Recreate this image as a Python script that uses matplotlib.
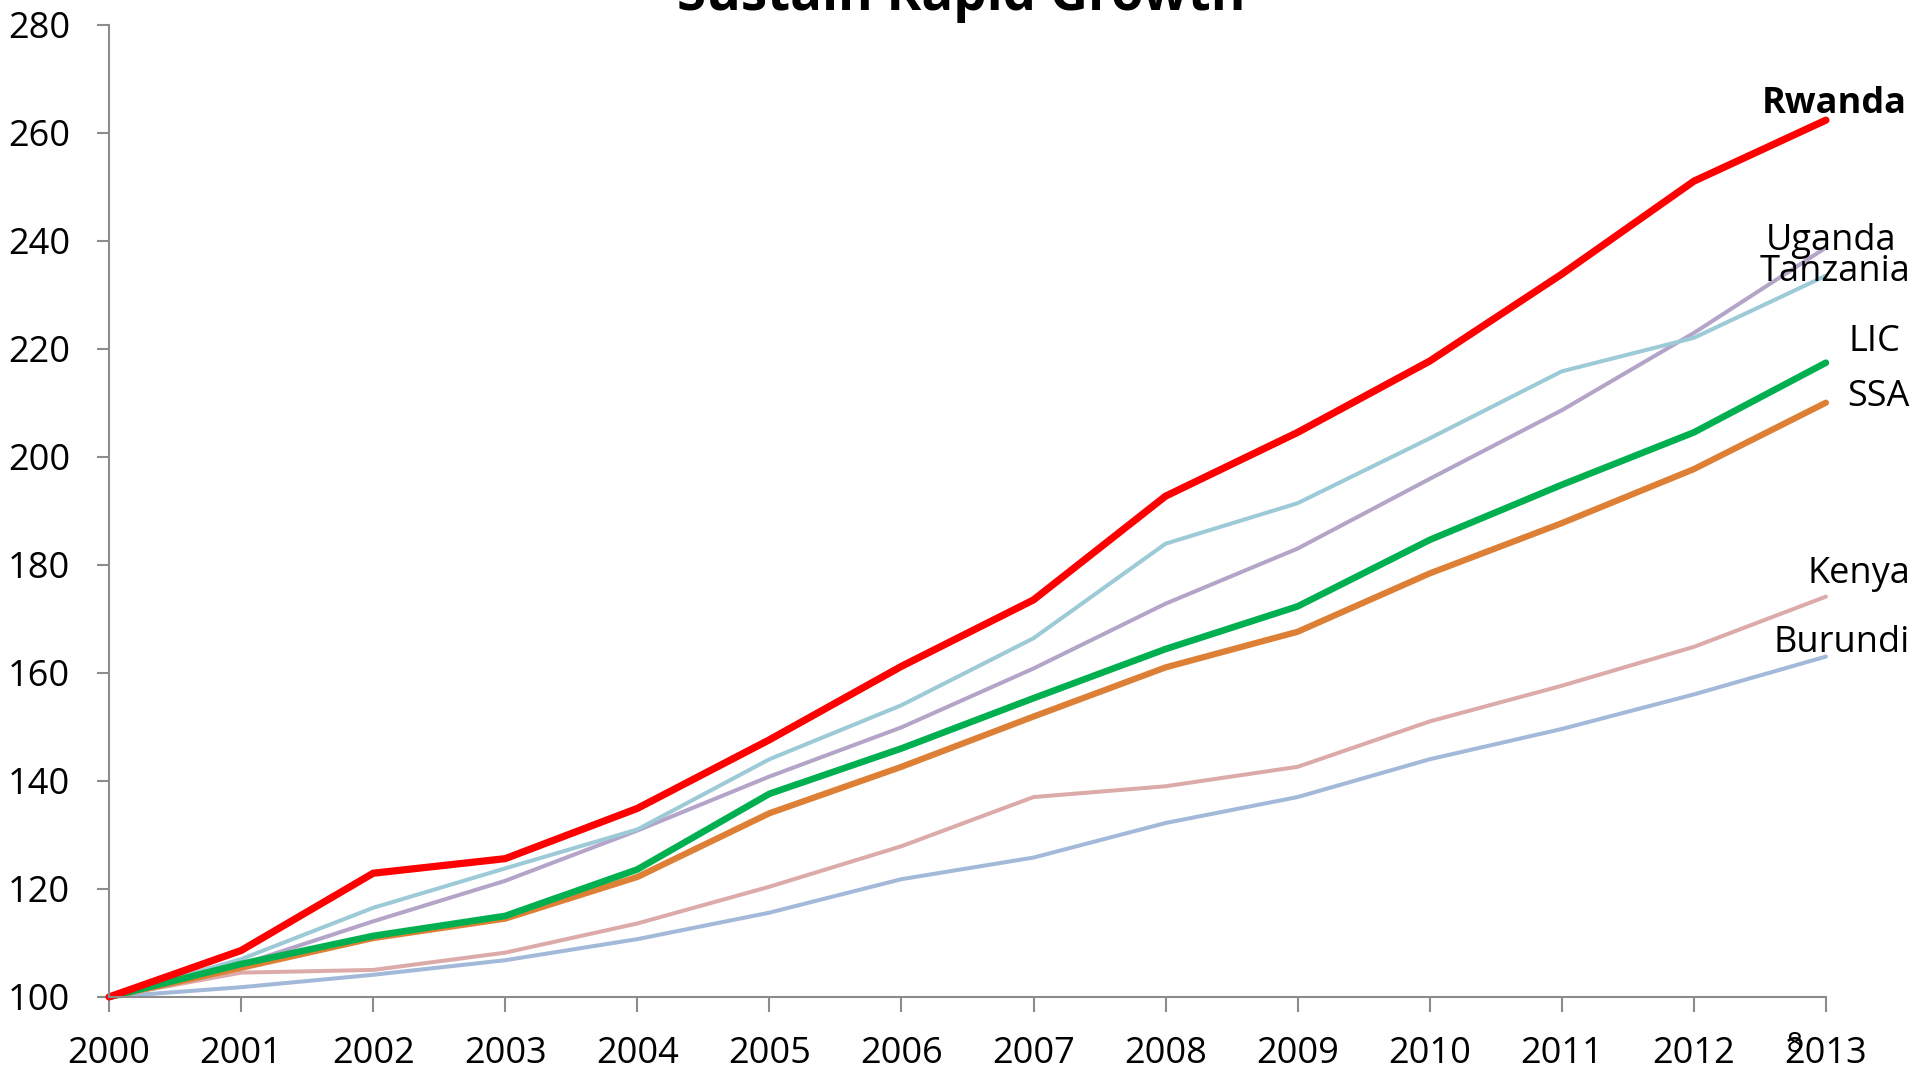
import matplotlib
matplotlib.use("Agg")
import matplotlib.pyplot as plt

years = list(range(2000, 2014))
rwanda   = [100, 108.6, 122.9, 125.6, 134.9, 147.6, 161.2, 173.5, 192.7, 204.5, 217.7, 233.8, 251.0, 262.3]
tanzania = [100, 107.0, 116.5, 123.8, 131.0, 144.0, 154.0, 166.4, 183.9, 191.4, 203.4, 215.8, 222.0, 233.5]
uganda   = [100, 106.0, 114.0, 121.5, 130.8, 140.8, 149.9, 160.8, 172.8, 183.0, 195.9, 208.6, 222.9, 238.7]
lic      = [100, 106.1, 111.3, 115.0, 123.6, 137.6, 146.0, 155.3, 164.4, 172.3, 184.6, 194.8, 204.5, 217.4]
ssa      = [100, 105.4, 110.9, 114.5, 122.2, 134.0, 142.6, 151.9, 161.0, 167.6, 178.4, 187.7, 197.7, 210.0]
kenya    = [100, 104.5, 105.0, 108.2, 113.6, 120.4, 127.9, 137.0, 139.0, 142.6, 151.0, 157.6, 164.8, 174.1]
burundi  = [100, 101.8, 104.1, 106.8, 110.7, 115.6, 121.8, 125.8, 132.2, 137.0, 144.0, 149.6, 156.0, 163.0]

title = "Sustain Rapid Growth"
yticks = list(range(100, 281, 20))

plt.rcParams['font.family'] = ['Open Sans', 'DejaVu Sans']

fig = plt.figure(figsize=(19.2, 10.8), dpi=100)
ax = fig.add_axes([0.0568, 0.0769, 0.951 - 0.0568, 0.9773 - 0.0769])

series = [
    (burundi, '#A3B9D9', 2.9, 'Burundi'),
    (kenya, '#DDAAAA', 2.9, 'Kenya'),
    (uganda, '#B3A4C8', 2.9, 'Uganda'),
    (tanzania, '#9CCAD6', 2.9, 'Tanzania'),
    (ssa, '#DD8035', 4.5, 'SSA'),
    (lic, '#00B050', 4.8, 'LIC'),
    (rwanda, '#FF0000', 5.2, 'Rwanda'),
]
for vals, col, lw, name in series:
    ax.plot(years, vals, color=col, lw=lw, solid_capstyle='round', solid_joinstyle='miter', clip_on=False)

ax.set_xlim(2000, 2013)
ax.set_ylim(100, 280)
ax.set_xticks(years)
ax.set_yticks(yticks)
for s in ['top', 'right']:
    ax.spines[s].set_visible(False)
for s in ['left', 'bottom']:
    ax.spines[s].set_color('#8C8C8C')
    ax.spines[s].set_linewidth(1.5)
ax.tick_params(axis='x', direction='out', length=11, width=1.5, color='#8C8C8C', pad=17, labelsize=26)
ax.tick_params(axis='y', direction='out', length=9, width=1.5, color='#8C8C8C', pad=19, labelsize=26)

fs = 26
ax.text(2013.06, 265.2, 'Rwanda', fontsize=fs, fontweight='bold', ha='center', va='center', clip_on=False)
ax.text(2013.04, 240.0, 'Uganda', fontsize=fs, ha='center', va='center', clip_on=False)
ax.text(2013.07, 234.2, 'Tanzania', fontsize=fs, ha='center', va='center', clip_on=False)
ax.text(2013.37, 221.2, 'LIC', fontsize=fs, ha='center', va='center', clip_on=False)
ax.text(2013.40, 211.1, 'SSA', fontsize=fs, ha='center', va='center', clip_on=False)
ax.text(2013.25, 178.2, 'Kenya', fontsize=fs, ha='center', va='center', clip_on=False)
ax.text(2013.12, 165.5, 'Burundi', fontsize=fs, ha='center', va='center', clip_on=False)

fig.text(0.5005, 0.9907, title, fontsize=38, fontweight='bold', ha='center', va='baseline')
fig.text(1795 / 1920, 1 - 1045 / 1080, '8', fontsize=20, ha='center', va='center')

fig.savefig('out.png', dpi=100)
